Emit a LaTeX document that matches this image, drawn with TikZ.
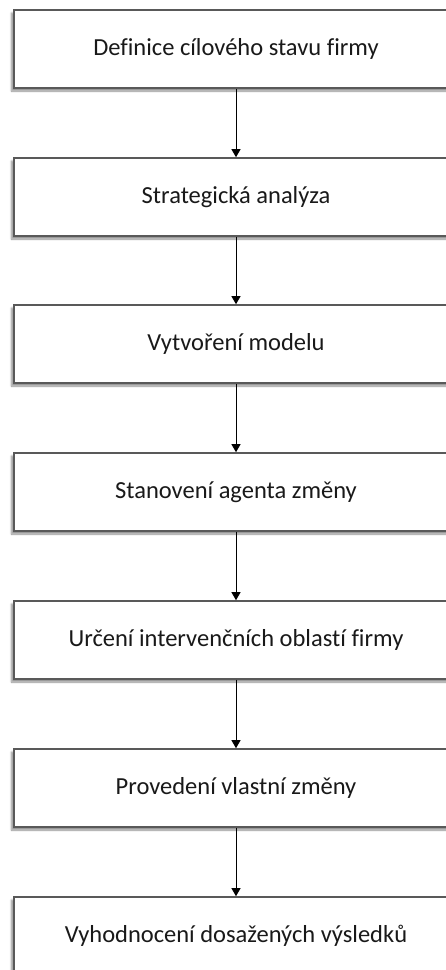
\documentclass[tikz,border=0pt]{standalone}
\usepackage{fontspec}
\setmainfont[Ligatures=NoCommon]{Carlito}
\usetikzlibrary{arrows.meta,shadows,shadows.blur}
\begin{document}
\begin{tikzpicture}[x=1pt,y=1pt,
  stepbox/.style={draw=black!65, line width=1.6pt, fill=white,
    minimum width=444pt, minimum height=78pt, inner sep=0pt,
    font=\fontsize{24.5}{29}\selectfont, text=black!90,
    blur shadow={shadow xshift=-2.5pt, shadow yshift=-3pt, shadow blur steps=6, shadow opacity=45}},
  flow/.style={draw=black, line width=1pt, -{Triangle[length=8pt,width=9pt]}}]
  \useasboundingbox (0,0) rectangle (446,-970);
  \clip (0,0) rectangle (446,-970);
  \node[stepbox] (s1) at (236,-49)  {Definice cílového stavu firmy};
  \node[stepbox] (s2) at (236,-197) {Strategická analýza};
  \node[stepbox] (s3) at (236,-344) {Vytvoření modelu};
  \node[stepbox] (s4) at (236,-492) {Stanovení agenta změny};
  \node[stepbox] (s5) at (236,-640) {Určení intervenčních oblastí firmy};
  \node[stepbox] (s6) at (236,-788) {Provedení vlastní změny};
  \node[stepbox] (s7) at (236,-936) {Vyhodnocení dosažených výsledků};
  \foreach \a/\b in {s1/s2,s2/s3,s3/s4,s4/s5,s5/s6,s6/s7}
    \draw[flow] (\a.south) -- (\b.north);
\end{tikzpicture}
\end{document}
